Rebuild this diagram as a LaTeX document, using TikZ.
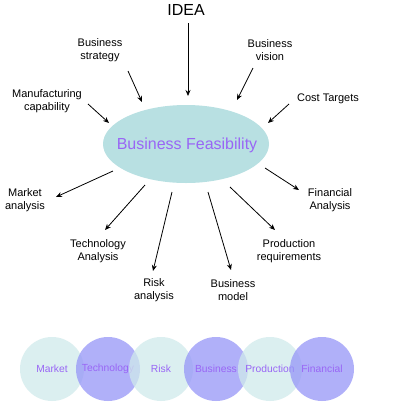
\documentclass[tikz,border=0pt]{standalone}
\usepackage{fontspec}
\setmainfont{Liberation Sans}
\usetikzlibrary{arrows.meta}
\definecolor{ellfill}{HTML}{B8E0E2}
\definecolor{txtpurple}{HTML}{9966F5}
\definecolor{lightc}{RGB}{208,234,235}
\definecolor{darkc}{RGB}{150,150,248}
\begin{document}
\begin{tikzpicture}[x=1pt,y=-1pt,
  lbl/.style={align=center,inner sep=0pt,font=\fontsize{11}{13.5}\selectfont,text=black},
  arr/.style={draw=black,line width=0.8pt,-{Stealth[length=6pt,width=5pt]}},
  circlight/.style={circle,minimum size=64pt,inner sep=0pt,fill=lightc,fill opacity=0.75,text opacity=1,text=txtpurple,font=\fontsize{10.3}{12}\selectfont},
  circdark/.style={circle,minimum size=64pt,inner sep=0pt,fill=darkc,fill opacity=0.75,text opacity=1,text=txtpurple,font=\fontsize{10.3}{12}\selectfont}]
\useasboundingbox[fill=white] (0,0) rectangle (400,405);
% central ellipse
\fill[ellfill] (186,144) ellipse [x radius=83, y radius=39];
\node[inner sep=0pt,text=txtpurple,font=\fontsize{16}{19}\selectfont] (feas) at (187,145) {Business Feasibility};
% top
\node[inner sep=0pt,font=\fontsize{16}{19}\selectfont] (idea) at (186,10) {IDEA};
\node[lbl] (bstrat) at (100,50) {Business\\strategy};
\node[lbl] (bvision) at (270,50) {Business\\vision};
\node[lbl] (manuf) at (47,101) {Manufacturing\\capability};
\node[lbl] (cost) at (328,99) {Cost Targets};
% bottom labels
\node[lbl] (market) at (25,200) {Market\\analysis};
\node[lbl] (tech) at (98,251) {Technology\\Analysis};
\node[lbl] (risk) at (154,290) {Risk\\analysis};
\node[lbl] (bmodel) at (233,290) {Business\\model};
\node[lbl] (prod) at (289,251) {Production\\requirements};
\node[lbl] (fin) at (330,200) {Financial\\Analysis};
% arrow end coordinates
\coordinate (ideaS) at (188,23);   \coordinate (ideaE) at (188,96);
\coordinate (bsS) at (128,71);     \coordinate (bsE) at (142,102);
\coordinate (bvS) at (253,68);     \coordinate (bvE) at (237,100);
\coordinate (mfS) at (88,104);     \coordinate (mfE) at (109,123);
\coordinate (ctS) at (289,104);    \coordinate (ctE) at (268,123);
\coordinate (mkS) at (113,171);    \coordinate (mkE) at (56,197);
\coordinate (teS) at (145,185);    \coordinate (teE) at (105,230);
\coordinate (rkS) at (172,192);    \coordinate (rkE) at (153,271);
\coordinate (bmS) at (208,192);    \coordinate (bmE) at (231,270);
\coordinate (prS) at (230,187);    \coordinate (prE) at (275,230);
\coordinate (fiS) at (265,168);    \coordinate (fiE) at (299,190);
\draw[arr] (ideaS) -- (ideaE);
\draw[arr] (bsS) -- (bsE);
\draw[arr] (bvS) -- (bvE);
\draw[arr] (mfS) -- (mfE);
\draw[arr] (ctS) -- (ctE);
\draw[arr] (mkS) -- (mkE);
\draw[arr] (teS) -- (teE);
\draw[arr] (rkS) -- (rkE);
\draw[arr] (bmS) -- (bmE);
\draw[arr] (prS) -- (prE);
\draw[arr] (fiS) -- (fiE);
% bottom circles
\node[circlight] (c1) at (52,369) {Market};
\node[circdark] (c2) at (108,369) {Technology};
\node[circlight] (c3) at (161,369) {Risk};
\node[circdark] (c4) at (216,369) {Business};
\node[circlight] (c5) at (270,369) {Production};
\node[circdark] (c6) at (322,369) {Financial};
\end{tikzpicture}
\end{document}
